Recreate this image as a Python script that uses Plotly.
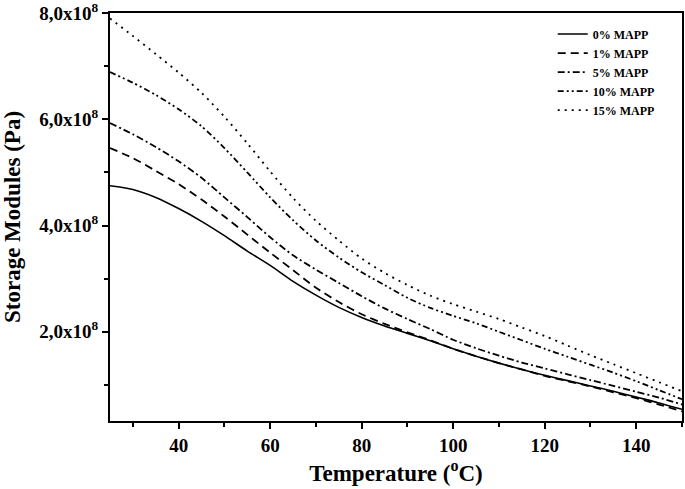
import plotly.graph_objects as go

# Temperature (°C)
temperature = [25, 30, 35, 40, 45, 50, 55, 60, 65, 70, 75, 80, 85, 90, 95,
               100, 105, 110, 115, 120, 125, 130, 135, 140, 145, 150]

# Storage modulus (Pa)
mapp_0 = [4.75e8, 4.68e8, 4.53e8, 4.32e8, 4.08e8, 3.81e8, 3.52e8, 3.25e8, 2.95e8, 2.69e8,
          2.46e8, 2.27e8, 2.11e8, 1.97e8, 1.83e8, 1.68e8, 1.54e8, 1.41e8, 1.29e8, 1.18e8,
          1.08e8, 0.98e8, 0.88e8, 0.77e8, 0.66e8, 0.54e8]
mapp_1 = [5.46e8, 5.27e8, 5.03e8, 4.78e8, 4.49e8, 4.17e8, 3.83e8, 3.49e8, 3.16e8, 2.83e8,
          2.56e8, 2.33e8, 2.15e8, 1.99e8, 1.84e8, 1.68e8, 1.54e8, 1.41e8, 1.29e8, 1.17e8,
          1.07e8, 0.97e8, 0.86e8, 0.75e8, 0.63e8, 0.50e8]
mapp_5 = [5.93e8, 5.72e8, 5.48e8, 5.21e8, 4.90e8, 4.53e8, 4.16e8, 3.78e8, 3.44e8, 3.17e8,
          2.92e8, 2.67e8, 2.44e8, 2.24e8, 2.05e8, 1.85e8, 1.69e8, 1.55e8, 1.42e8, 1.31e8,
          1.20e8, 1.09e8, 0.98e8, 0.87e8, 0.76e8, 0.63e8]
mapp_10 = [6.89e8, 6.69e8, 6.46e8, 6.19e8, 5.87e8, 5.46e8, 5.00e8, 4.53e8, 4.10e8, 3.72e8,
           3.40e8, 3.12e8, 2.88e8, 2.64e8, 2.45e8, 2.30e8, 2.16e8, 2.00e8, 1.84e8, 1.68e8,
           1.53e8, 1.38e8, 1.23e8, 1.07e8, 0.90e8, 0.73e8]
mapp_15 = [7.90e8, 7.57e8, 7.23e8, 6.88e8, 6.50e8, 6.05e8, 5.55e8, 5.02e8, 4.52e8, 4.09e8,
           3.72e8, 3.38e8, 3.11e8, 2.88e8, 2.68e8, 2.52e8, 2.38e8, 2.24e8, 2.08e8, 1.92e8,
           1.74e8, 1.56e8, 1.39e8, 1.22e8, 1.05e8, 0.88e8]

series_names = ["0% MAPP", "1% MAPP", "5% MAPP", "10% MAPP", "15% MAPP"]
series_values = [mapp_0, mapp_1, mapp_5, mapp_10, mapp_15]
dashes = ["solid", "8px,5px", "7px,3px,2px,3px", "6px,3px,2px,3px,2px,3px", "2px,5px"]
widths = [1.6, 1.8, 1.8, 1.8, 1.8]

y_tick_vals = [2e8, 4e8, 6e8, 8e8]
y_tick_text = ["2,0x10<sup>8</sup>", "4,0x10<sup>8</sup>", "6,0x10<sup>8</sup>", "8,0x10<sup>8</sup>"]

FONT = "Liberation Serif"

fig = go.Figure()
for name, vals, dash, w in zip(series_names, series_values, dashes, widths):
    fig.add_trace(go.Scatter(
        x=temperature, y=vals, name=name, mode="lines",
        line=dict(color="black", width=w, dash=dash, shape="spline", smoothing=0.8),
    ))

fig.update_layout(
    width=685, height=489,
    margin=dict(l=110, r=3, t=13, b=68),
    paper_bgcolor="white", plot_bgcolor="white",
    font=dict(family=FONT, color="black"),
    showlegend=True,
    legend=dict(
        x=0.774, y=0.984, xanchor="left", yanchor="top",
        bgcolor="rgba(0,0,0,0)", borderwidth=0,
        font=dict(family=FONT, size=12, color="black", weight="bold"),
        itemwidth=30, tracegroupgap=0,
    ),
)

fig.update_xaxes(
    range=[25, 150], automargin=False,
    tickmode="linear", tick0=0, dtick=20,
    ticks="outside", ticklen=6, tickwidth=2, tickcolor="black",
    minor=dict(tickmode="linear", tick0=0, dtick=10, ticks="outside",
               ticklen=4, tickwidth=2, tickcolor="black"),
    showline=True, linewidth=2, linecolor="black", mirror=True,
    showgrid=False, zeroline=False,
    tickfont=dict(family=FONT, size=19, color="black", weight="bold"),
    title=dict(text="Temperature (<sup>o</sup>C)",
               font=dict(family=FONT, size=23, color="black", weight="bold"),
               standoff=10),
)

fig.update_yaxes(
    range=[0.32e8, 8.003e8], automargin=False,
    tickmode="array", tickvals=y_tick_vals, ticktext=y_tick_text,
    ticks="outside", ticklen=6, tickwidth=2, tickcolor="black",
    ticklabeloverflow="allow",
    minor=dict(tickmode="linear", tick0=0, dtick=1e8, ticks="outside",
               ticklen=4, tickwidth=2, tickcolor="black"),
    showline=True, linewidth=2, linecolor="black", mirror=True,
    showgrid=False, zeroline=False,
    tickfont=dict(family=FONT, size=19, color="black", weight="bold"),
    title=dict(text="Storage Modules (Pa)",
               font=dict(family=FONT, size=23, color="black", weight="bold"),
               standoff=14),
)

fig.write_html(
    "out.html",
    config={"displayModeBar": False},
    post_script="document.body.style.margin='0';document.body.style.overflow='hidden';",
)
